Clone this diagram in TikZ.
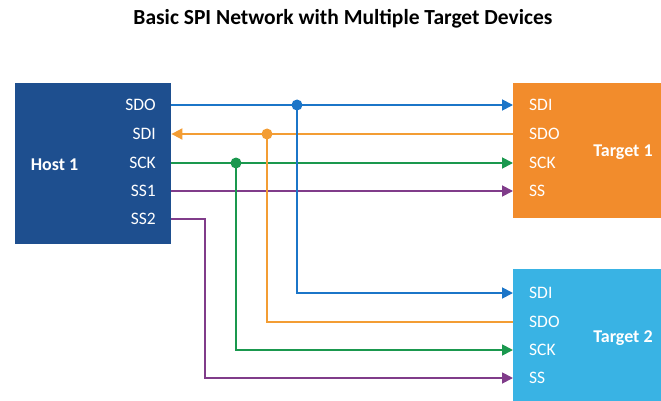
\documentclass[tikz,border=0pt]{standalone}
\usepackage{fontspec}
\setmainfont{Carlito}
\usetikzlibrary{arrows.meta,positioning,calc}
\definecolor{spiNavy}{RGB}{30,79,143}
\definecolor{spiOrange}{RGB}{242,140,44}
\definecolor{spiSky}{RGB}{57,179,228}
\definecolor{spiBlue}{RGB}{27,117,200}
\definecolor{spiAmber}{RGB}{243,157,52}
\definecolor{spiGreen}{RGB}{26,152,78}
\definecolor{spiPlum}{RGB}{128,60,138}

\begin{document}
\begin{tikzpicture}[x=1pt,y=-1pt,>=Latex]
\tikzset{
box/.style={draw=none,inner sep=0pt,anchor=north west},
pin/.style={font=\fontsize{17.5}{18}\selectfont,text=white,inner sep=0pt,
text height=2.3ex,text depth=0ex},
devname/.style={font=\bfseries\fontsize{18}{20}\selectfont,text=white,inner sep=0pt},
wire/.style={line width=1.8pt,-{Triangle[length=11pt,width=11pt]}},
bare/.style={line width=1.8pt},
dot/.style={circle,inner sep=0pt,minimum size=11pt}
}
\useasboundingbox (0,0) rectangle (661,401);

\node[font=\bfseries\fontsize{21.5}{24}\selectfont] (title) at (343,19) {Basic SPI Network with Multiple Target Devices};

\node[box,fill=spiNavy,minimum width=156pt,minimum height=161pt] (host) at (15,83) {};
\node[devname] (hostname) at (54.5,165) {Host 1};
\node[pin,anchor=east] (h-sdo) at (156,105) {SDO};
\node[pin,anchor=east] (h-sdi) at (156,134) {SDI};
\node[pin,anchor=east] (h-sck) at (156,163) {SCK};
\node[pin,anchor=east] (h-ss1) at (156,191) {SS1};
\node[pin,anchor=east] (h-ss2) at (156,219) {SS2};

\node[box,fill=spiOrange,minimum width=148pt,minimum height=135pt] (tgtA) at (513,83) {};
\node[devname] (tgtAname) at (623,152) {Target 1};
\node[pin,anchor=west] (a-sdi) at (529,105) {SDI};
\node[pin,anchor=west] (a-sdo) at (529,134) {SDO};
\node[pin,anchor=west] (a-sck) at (529,163) {SCK};
\node[pin,anchor=west] (a-ss) at (529,191) {SS};

\node[box,fill=spiSky,minimum width=148pt,minimum height=132pt] (tgtB) at (513,269) {};
\node[devname] (tgtBname) at (623,338) {Target 2};
\node[pin,anchor=west] (b-sdi) at (529,293) {SDI};
\node[pin,anchor=west] (b-sdo) at (529,322) {SDO};
\node[pin,anchor=west] (b-sck) at (529,350) {SCK};
\node[pin,anchor=west] (b-ss) at (529,378) {SS};

\coordinate (j-sdo) at (297,105);
\coordinate (j-sdi) at (267,134);
\coordinate (j-sck) at (236,163);
\coordinate (k-ss2) at (205,219);

\draw[wire,spiPlum] (host.east |- h-ss1) -- (tgtA.west |- a-ss);
\draw[wire,spiPlum] (host.east |- h-ss2) -- (k-ss2) |- (tgtB.west |- b-ss);
\draw[wire,spiGreen] (host.east |- h-sck) -- (tgtA.west |- a-sck);
\draw[wire,spiGreen] (j-sck) |- (tgtB.west |- b-sck);
\draw[wire,spiAmber] (tgtA.west |- a-sdo) -- (host.east |- h-sdi);
\draw[bare,spiAmber] (j-sdi) |- (tgtB.west |- b-sdo);
\draw[wire,spiBlue] (host.east |- h-sdo) -- (tgtA.west |- a-sdi);
\draw[wire,spiBlue] (j-sdo) |- (tgtB.west |- b-sdi);

\node[dot,fill=spiBlue] (d-sdo) at (j-sdo) {};
\node[dot,fill=spiAmber] (d-sdi) at (j-sdi) {};
\node[dot,fill=spiGreen] (d-sck) at (j-sck) {};
\end{tikzpicture}
\end{document}
